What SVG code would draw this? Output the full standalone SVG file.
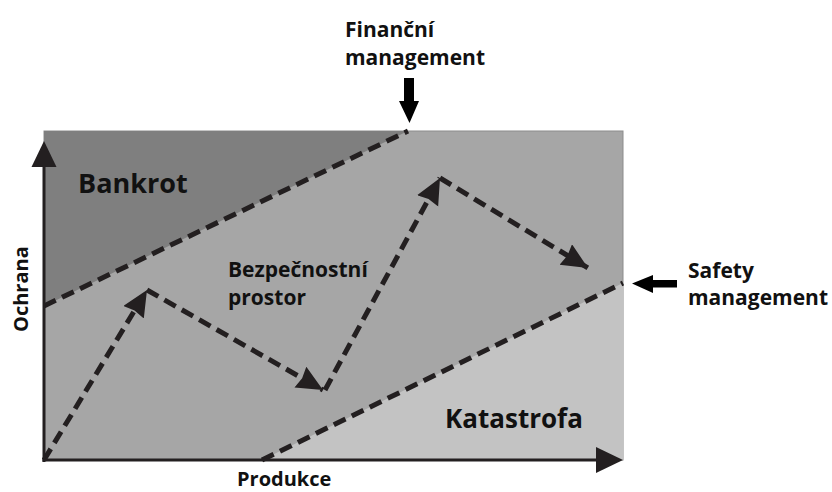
<svg xmlns="http://www.w3.org/2000/svg" width="832" height="492" viewBox="0 0 832 492">
<style>
text{font-family:"Open Sans","Liberation Sans",sans-serif;font-weight:700;fill:#111}
.dash{fill:none;stroke:#231f20;stroke-width:5;stroke-dasharray:13 7}
.axis{fill:none;stroke:#231f20;stroke-width:3}
.head{fill:#231f20}
.blk{fill:#000}
</style>
<defs>
<marker id="ah" markerUnits="userSpaceOnUse" markerWidth="30" markerHeight="28" refX="26" refY="12" orient="auto" viewBox="0 0 30 28">
<path d="M0,0 L26,12 L0,24 L2,12 Z" fill="#231f20"/>
</marker>
</defs>
<g id="regions">
<rect id="safe-space" x="44" y="131" width="579" height="329" fill="#a6a6a6" stroke="#8c8c8c" stroke-width="1"/>
<polygon id="bankrot-region" points="44,131 408,131 44,306" fill="#7f7f7f"/>
<polygon id="katastrofa-region" points="262,460 623,283 623,460" fill="#c3c3c3"/>
</g>
<g id="connectors">
<line class="dash" x1="44" y1="306" x2="408" y2="131"/>
<line class="dash" x1="262" y1="460" x2="623" y2="283"/>
<line class="dash" x1="44" y1="460" x2="147" y2="290" marker-end="url(#ah)"/>
<line class="dash" x1="147" y1="290" x2="323" y2="390" marker-end="url(#ah)"/>
<line class="dash" x1="325" y1="390" x2="440" y2="178" marker-end="url(#ah)"/>
<line class="dash" x1="440" y1="178" x2="588" y2="268" marker-end="url(#ah)"/>
<line class="axis" x1="44" y1="462" x2="44" y2="160"/>
<polygon class="head" points="44,141 31.5,167 56.5,167"/>
<line class="axis" x1="42.5" y1="460" x2="600" y2="460"/>
<polygon class="head" points="623,460 596,447 596,473"/>
<polygon class="blk" points="404,78 414,78 414,101 419,101 409.5,123 399,101 404,101"/>
<polygon class="blk" points="677,280 677,287.5 653,287.5 653,293 632,283.5 653,275 653,280"/>
</g>
<g id="labels">
<text x="78" y="193" font-size="27">Bankrot</text>
<text x="228" y="277" font-size="21">Bezpečnostní</text>
<text x="228" y="305" font-size="21">prostor</text>
<text x="445" y="428" font-size="26">Katastrofa</text>
<text x="237" y="486" font-size="20">Produkce</text>
<text transform="translate(28,332) rotate(-90)" font-size="20">Ochrana</text>
<text x="345" y="37" font-size="21">Finanční</text>
<text x="345" y="65" font-size="21">management</text>
<text x="688" y="278" font-size="21">Safety</text>
<text x="688" y="305" font-size="21">management</text>
</g>
</svg>
